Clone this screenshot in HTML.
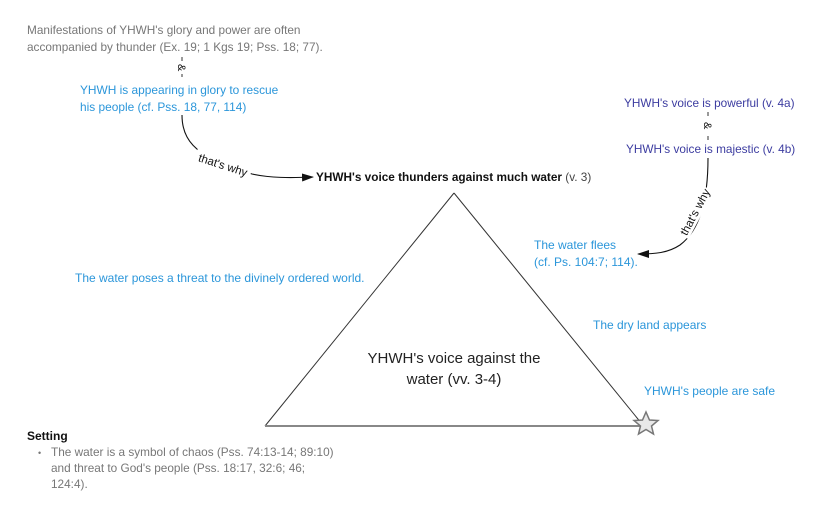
<!DOCTYPE html>
<html><head><meta charset="utf-8"><style>
html,body{margin:0;padding:0;background:#fff;}
svg{display:block;font-family:"Liberation Sans",sans-serif;}
</style></head><body>
<svg width="825" height="512" viewBox="0 0 825 512" xmlns="http://www.w3.org/2000/svg">
<defs><marker id="ar" markerWidth="12" markerHeight="8" refX="11" refY="4" orient="auto" markerUnits="userSpaceOnUse"><path d="M0,0 L12,4 L0,8 Z" fill="#111"/></marker></defs>
<g font-size="11.8" fill="#777">
<text x="27" y="34">Manifestations of YHWH's glory and power are often</text>
<text x="27" y="51">accompanied by thunder (Ex. 19; 1 Kgs 19; Pss. 18; 77).</text>
</g>
<line x1="182" y1="57" x2="182" y2="80" stroke="#333" stroke-dasharray="4,4"/>
<rect x="176" y="62" width="12" height="12" fill="#fff"/>
<text x="0" y="0" font-size="11" fill="#111" transform="translate(178,64) rotate(90)">&amp;</text>
<g font-size="11.9" fill="#2b96da">
<text x="80" y="94">YHWH is appearing in glory to rescue</text>
<text x="80" y="111">his people (cf. Pss. 18, 77, 114)</text>
</g>
<path d="M182,115 C182,150 210,160 252,174 C270,178 290,178 313,177" fill="none" stroke="#111" stroke-width="1.1" marker-end="url(#ar)"/>
<rect x="194" y="150" width="58" height="30" fill="#fff" transform="rotate(18 223 165)"/>
<text x="223" y="169" font-size="11.5" fill="#111" text-anchor="middle" transform="rotate(18 223 165)">that's why</text>
<text x="316" y="181" font-size="11.8" fill="#111"><tspan font-weight="bold">YHWH's voice thunders against much water</tspan> <tspan fill="#444">(v. 3)</tspan></text>
<g font-size="11.8" fill="#3c3ca0">
<text x="624" y="107">YHWH's voice is powerful (v. 4a)</text>
<text x="626" y="153">YHWH's voice is majestic (v. 4b)</text>
</g>
<line x1="708" y1="112" x2="708" y2="142" stroke="#333" stroke-dasharray="4,4"/>
<rect x="702" y="120" width="12" height="14" fill="#fff"/>
<text x="0" y="0" font-size="11" fill="#111" transform="translate(704,122) rotate(90)">&amp;</text>
<path d="M708,158 C708,200 700,230 680,245 C668,253 655,254 638,254" fill="none" stroke="#111" stroke-width="1.1" marker-end="url(#ar)"/>
<rect x="668" y="205" width="54" height="14" fill="#fff" transform="rotate(-62 695 212)"/>
<text x="695" y="216" font-size="11.5" fill="#111" text-anchor="middle" transform="rotate(-62 695 212)">that's why</text>
<g font-size="12" fill="#2b96da">
<text x="534" y="249">The water flees</text>
<text x="534" y="266">(cf. Ps. 104:7; 114).</text>
<text x="75" y="282">The water poses a threat to the divinely ordered world.</text>
<text x="593" y="329">The dry land appears</text>
<text x="644" y="395">YHWH's people are safe</text>
</g>
<line x1="454" y1="193" x2="265" y2="426" stroke="#333" stroke-width="1"/>
<line x1="454" y1="193" x2="642" y2="424" stroke="#333" stroke-width="1"/>
<line x1="265" y1="426" x2="640" y2="426" stroke="#888" stroke-width="2"/>
<polygon points="646,412 649.5,420 658,420.5 651.5,426 653.5,434 646,429.5 638.5,434 640.5,426 634,420.5 642.5,420" fill="#e8e8e8" stroke="#777" stroke-width="1.5"/>
<g font-size="15" fill="#222" text-anchor="middle">
<text x="454" y="363">YHWH's voice against the</text>
<text x="454" y="384">water (vv. 3-4)</text>
</g>
<text x="27" y="440" font-size="12" font-weight="bold" fill="#111">Setting</text>
<g font-size="11.8" fill="#777">
<text x="38" y="456" font-size="9">•</text>
<text x="51" y="456">The water is a symbol of chaos (Pss. 74:13-14; 89:10)</text>
<text x="51" y="472">and threat to God's people (Pss. 18:17, 32:6; 46;</text>
<text x="51" y="488">124:4).</text>
</g>
</svg>
</body></html>
